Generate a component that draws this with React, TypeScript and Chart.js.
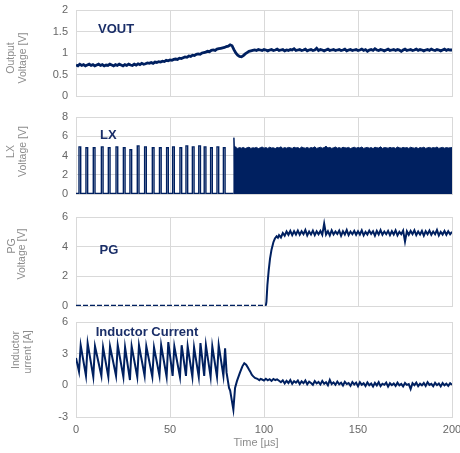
import React, { useEffect, useRef } from "react";
import { Chart, registerables } from "chart.js";
Chart.register(...registerables);

const FONT = "'Liberation Sans', Arial, sans-serif";
const NAVY = "#002060";
const LABEL_NAVY = "#1a2e68";
const GRID = "#d9d9d9";
const TICK = "#666666";
const TITLE = "#8c8c8c";

// ---------- time axis ----------
const X_TICKS = [0, 50, 100, 150, 200];

// ---------- VOUT [V], sampled every 1 µs from 0 to 200 ----------
const voutStart = 0;
const voutValues = [
  0.72, 0.70, 0.74, 0.71, 0.73, 0.70, 0.72, 0.74, 0.71, 0.73,
  0.70, 0.72, 0.74, 0.71, 0.73, 0.70, 0.72, 0.71, 0.74, 0.72,
  0.70, 0.73, 0.71, 0.74, 0.72, 0.70, 0.73, 0.71, 0.74, 0.72,
  0.71, 0.74, 0.72, 0.75, 0.73, 0.76, 0.74, 0.75, 0.77, 0.76,
  0.78, 0.76, 0.79, 0.78, 0.80, 0.79, 0.81, 0.80, 0.83, 0.82,
  0.84, 0.83, 0.85, 0.86, 0.85, 0.88, 0.87, 0.89, 0.91, 0.90,
  0.93, 0.92, 0.95, 0.94, 0.97, 0.98, 0.97, 1.00, 1.01, 1.02,
  1.04, 1.03, 1.06, 1.07, 1.06, 1.09, 1.10, 1.11, 1.12, 1.13,
  1.15, 1.16, 1.19, 1.17, 1.08, 1.00, 0.95, 0.92, 0.91, 0.94,
  0.98, 1.01, 1.04, 1.05, 1.06, 1.07, 1.06, 1.08, 1.07, 1.06,
  1.08, 1.07, 1.05, 1.07, 1.08, 1.06, 1.07, 1.09, 1.06, 1.07,
  1.08, 1.05, 1.07, 1.06, 1.08, 1.07, 1.10, 1.06, 1.07, 1.08,
  1.06, 1.07, 1.09, 1.05, 1.07, 1.08, 1.06, 1.07, 1.11, 1.06,
  1.08, 1.07, 1.05, 1.07, 1.09, 1.06, 1.07, 1.08, 1.06, 1.07,
  1.08, 1.06, 1.07, 1.09, 1.05, 1.07, 1.08, 1.06, 1.07, 1.08,
  1.06, 1.07, 1.09, 1.06, 1.08, 1.04, 1.07, 1.08, 1.06, 1.10,
  1.07, 1.06, 1.08, 1.07, 1.05, 1.07, 1.09, 1.06, 1.07, 1.08,
  1.06, 1.08, 1.07, 1.04, 1.07, 1.09, 1.06, 1.07, 1.08, 1.06,
  1.07, 1.09, 1.06, 1.08, 1.07, 1.05, 1.07, 1.08, 1.06, 1.09,
  1.07, 1.06, 1.08, 1.07, 1.05, 1.07, 1.09, 1.06, 1.08, 1.07,
  1.07,
];

// ---------- LX [V] ----------
const lxBase = 0.05;
const pulseWidth = 0.9; // µs
const pulseStarts = [
  1.6, 5.3, 9.2, 13.5, 17.2, 21.3, 25.2, 28.7, 32.6, 36.5, 40.6,
  44.4, 48.2, 51.4, 55.3, 58.5, 61.9, 65.3, 68.2, 71.6, 75.0, 78.4,
];
const pulsePeaks = [
  4.9, 4.8, 4.8, 4.9, 4.8, 4.9, 4.8, 4.6, 5.0, 4.9, 4.8,
  4.8, 4.8, 4.9, 4.8, 5.0, 4.9, 5.0, 4.9, 4.8, 4.9, 4.8,
];
const lxPulseEnd = 83.8;
// start of continuous switching (time, value)
const lxDenseLeadTimes = [83.8, 84.0, 84.2, 84.3, 84.5, 84.6];
const lxDenseLeadValues = [0.05, 5.85, 5.0, 0.2, 0.2, 4.9];
// envelope of the dense switching, every 1 µs from 85 to 200
const lxDenseStart = 85;
const lxDenseTop = [
  4.80, 4.74, 4.82, 4.76, 4.84, 4.72, 4.80, 4.86, 4.74, 4.80,
  4.78, 4.84, 4.72, 4.80, 4.88, 4.76, 4.82, 4.74, 4.86, 4.78,
  4.80, 4.72, 4.84, 4.78, 4.90, 4.74, 4.82, 4.76, 4.84, 4.80,
  4.74, 4.86, 4.78, 4.82, 4.72, 4.88, 4.80, 4.76, 4.84, 4.74,
  4.82, 4.78, 4.90, 4.74, 4.80, 4.86, 4.76, 4.82, 4.96, 4.78,
  4.84, 4.74, 4.80, 4.88, 4.76, 4.82, 4.74, 4.86, 4.80, 4.78,
  4.84, 4.72, 4.80, 4.86, 4.76, 4.82, 4.78, 4.88, 4.74, 4.80,
  4.84, 4.76, 4.82, 4.72, 4.86, 4.80, 4.78, 4.90, 4.74, 4.82,
  4.80, 4.76, 4.84, 4.78, 4.82, 4.74, 4.88, 4.80, 4.76, 4.84,
  4.78, 4.82, 4.74, 4.86, 4.80, 4.76, 4.84, 4.72, 4.82, 4.78,
  4.86, 4.74, 4.80, 4.84, 4.76, 4.82, 4.78, 4.88, 4.74, 4.80,
  4.84, 4.76, 4.82, 4.78, 4.80, 4.82,
];

// ---------- PG [V] ----------
const pgLowEnd = 101;
const pgRiseTimes = [0, 101, 101.3, 101.8, 102.5, 103.2, 104, 105, 105.8, 106.7, 107.4];
const pgRiseValues = [0.03, 0.03, 0.3, 1.4, 2.4, 3.2, 3.8, 4.3, 4.55, 4.7, 4.6];
const pgPlateauStart = 108;
const pgPlateau = [
  4.78, 4.62, 4.92, 4.74, 5.02, 4.80, 5.06, 4.78, 5.04, 4.82,
  5.08, 4.80, 5.04, 4.84, 5.12, 4.76, 5.02, 4.82, 5.08, 4.78,
  5.04, 4.84, 5.06, 4.80, 5.55, 4.82, 5.04, 4.76, 5.10, 4.82,
  5.02, 4.86, 5.08, 4.74, 5.04, 4.82, 5.12, 4.78, 5.02, 4.84,
  5.06, 4.80, 5.04, 4.82, 5.10, 4.76, 5.00, 4.82, 5.08, 4.86,
  5.04, 4.74, 5.06, 4.82, 5.12, 4.80, 5.02, 4.84, 5.06, 4.78,
  5.04, 4.82, 5.10, 4.76, 5.00, 4.84, 5.08, 4.35, 5.04, 4.80,
  5.06, 4.84, 5.10, 4.78, 5.02, 4.82, 5.06, 4.74, 5.04, 4.84,
  5.08, 4.80, 5.02, 4.84, 5.12, 4.76, 5.00, 4.82, 5.06, 4.80,
  5.04, 4.84, 5.00,
];

// ---------- Inductor current [A] ----------
const ilStartValue = 2.6;
const ilValleys = [
  1.3, 0.9, 0.8, 0.9, 0.8, 0.9, 0.8, 0.5, 0.8, 0.9, 0.8,
  0.9, 0.8, 0.9, 0.8, 0.9, 0.8, 0.8, 0.9, 0.8, 0.8, 0.9,
];
const ilPeaks = [
  3.8, 4.0, 3.7, 3.6, 3.7, 3.8, 3.6, 3.7, 3.8, 3.7, 3.6,
  3.8, 4.1, 3.7, 3.8, 3.7, 3.6, 4.0, 3.8, 3.7, 3.8, 3.5,
];
const ilAfterTimes = [80.1, 81.4, 82.0, 83.7, 84.6, 85.6, 87.2, 88.5, 89.5, 90.5, 91.2, 92.0, 92.7, 93.5, 94.3, 95.2, 96.5, 97.5, 98.2];
const ilAfterValues = [1.2, -0.25, -0.5, -2.3, -0.25, 0.4, 1.2, 1.8, 2.1, 1.95, 1.75, 1.5, 1.3, 1.0, 0.85, 0.7, 0.62, 0.48, 0.6];
const ilTailStart = 99;
const ilTail = [
  0.55, 0.45, 0.62, 0.48, 0.58, 0.42, 0.60, 0.50, 0.56, 0.44,
  0.30, 0.48, 0.18, 0.42, 0.22, 0.50, 0.15, 0.40, 0.25, 0.45,
  0.12, 0.38, 0.20, 0.46, 0.10, 0.35, 0.22, 0.05, 0.40, 0.18,
  0.32, 0.08, 0.42, 0.15, 0.30, 0.02, 0.52, 0.12, 0.28, 0.05,
  0.36, 0.10, 0.25, -0.02, 0.34, 0.12, 0.22, -0.05, 0.30, 0.08,
  0.26, -0.08, 0.30, 0.05, 0.20, -0.06, 0.28, 0.02, 0.18, -0.10,
  0.24, 0.00, 0.30, -0.08, 0.15, 0.05, 0.26, -0.12, 0.20, 0.02,
  0.18, -0.06, 0.25, 0.00, 0.14, -0.10, 0.22, 0.04, 0.12, -0.35,
  0.20, 0.02, 0.26, -0.08, 0.16, 0.00, 0.22, -0.06, 0.30, 0.04,
  0.14, -0.08, 0.24, 0.02, 0.18, -0.10, 0.22, 0.00, 0.16, -0.05,
  0.20, 0.05,
];

type Pt = { x: number; y: number };

// ---------- build point tables ----------
const voutPts: Pt[] = voutValues.map((v, i) => ({ x: voutStart + i, y: v }));

const lxPulsePts: Pt[] = [{ x: 0, y: lxBase }];
pulseStarts.forEach((t, k) => {
  lxPulsePts.push({ x: t, y: lxBase }, { x: t, y: pulsePeaks[k] }, { x: t + pulseWidth, y: pulsePeaks[k] }, { x: t + pulseWidth, y: lxBase });
});
lxPulsePts.push({ x: lxPulseEnd, y: lxBase });

const lxDensePts: Pt[] = lxDenseLeadTimes.map((t, i) => ({ x: t, y: lxDenseLeadValues[i] }));
lxDenseTop.forEach((v, i) => lxDensePts.push({ x: lxDenseStart + i, y: v }));

const pgPts: Pt[] = pgRiseTimes.map((t, i) => ({ x: t, y: pgRiseValues[i] }));
pgPlateau.forEach((v, i) => pgPts.push({ x: pgPlateauStart + i, y: v }));

const ilPts: Pt[] = [{ x: 0, y: ilStartValue }];
pulseStarts.forEach((t, k) => {
  ilPts.push({ x: t, y: ilValleys[k] }, { x: t + pulseWidth, y: ilPeaks[k] });
});
ilAfterTimes.forEach((t, i) => ilPts.push({ x: t, y: ilAfterValues[i] }));
ilTail.forEach((v, i) => ilPts.push({ x: ilTailStart + i, y: v }));

// ---------- helpers ----------
type TextItem = { text: string; x: number; y: number; rotate?: boolean; font: string; color: string; align?: CanvasTextAlign; baseline?: CanvasTextBaseline };

function textPlugin(id: string, items: TextItem[]) {
  return {
    id,
    afterDraw(chart: any) {
      const ctx = chart.ctx as CanvasRenderingContext2D;
      items.forEach((it) => {
        ctx.save();
        ctx.font = it.font;
        ctx.fillStyle = it.color;
        if (it.rotate) {
          ctx.translate(it.x, it.y);
          ctx.rotate(-Math.PI / 2);
          ctx.textAlign = "center";
          ctx.textBaseline = "middle";
          ctx.fillText(it.text, 0, 0);
        } else {
          ctx.textAlign = it.align || "left";
          ctx.textBaseline = it.baseline || "alphabetic";
          ctx.fillText(it.text, it.x, it.y);
        }
        ctx.restore();
      });
    },
  };
}

const W = 460;
const H = 453;
const PLOT_LEFT = 76;
const PLOT_RIGHT = 452;

function panelConfig(p: {
  datasets: any[];
  yMin: number;
  yMax: number;
  yStep: number;
  top: number;
  bottom: number;
  showX: boolean;
  texts: TextItem[];
  id: string;
}): any {
  const xh = p.showX ? H - p.bottom : 0;
  return {
    type: "line",
    data: { datasets: p.datasets },
    plugins: [textPlugin(p.id, p.texts)],
    options: {
      responsive: false,
      animation: false,
      devicePixelRatio: 1,
      parsing: false,
      normalized: true,
      events: [],
      layout: { padding: { left: 0, right: W - PLOT_RIGHT, top: p.top, bottom: H - p.bottom - xh } },
      plugins: { legend: { display: false }, tooltip: { enabled: false }, title: { display: false } },
      elements: { point: { radius: 0 }, line: { tension: 0 } },
      scales: {
        x: {
          type: "linear",
          min: 0,
          max: 200,
          afterBuildTicks: (s: any) => {
            s.ticks = X_TICKS.map((v) => ({ value: v }));
          },
          ticks: {
            display: p.showX,
            padding: 6,
            color: TICK,
            font: { family: FONT, size: 11 },
            maxRotation: 0,
            autoSkip: false,
            callback: (v: any) => String(Number(v)),
          },
          grid: { color: GRID, lineWidth: 1, drawTicks: false },
          border: { color: GRID, width: 1 },
          afterFit: (s: any) => {
            s.height = xh;
            s.paddingLeft = 0;
            s.paddingRight = 0;
          },
        },
        y: {
          type: "linear",
          min: p.yMin,
          max: p.yMax,
          ticks: {
            stepSize: p.yStep,
            padding: 8,
            color: TICK,
            font: { family: FONT, size: 11 },
            callback: (v: any) => String(Number(v)),
          },
          grid: { color: GRID, lineWidth: 1, drawTicks: false },
          border: { color: GRID, width: 1 },
          afterFit: (s: any) => {
            s.width = PLOT_LEFT;
            s.paddingTop = 0;
            s.paddingBottom = 0;
          },
        },
      },
    },
  };
}

const TITLE_FONT = `10.5px ${FONT}`;
const LABEL_FONT = `bold 13px ${FONT}`;

export default function App() {
  const r1 = useRef<HTMLCanvasElement>(null);
  const r2 = useRef<HTMLCanvasElement>(null);
  const r3 = useRef<HTMLCanvasElement>(null);
  const r4 = useRef<HTMLCanvasElement>(null);

  useEffect(() => {
    const charts: Chart[] = [];

    charts.push(
      new Chart(
        r1.current!,
        panelConfig({
          id: "t1",
          datasets: [{ data: voutPts, borderColor: NAVY, borderWidth: 2.8, fill: false }],
          yMin: 0,
          yMax: 2,
          yStep: 0.5,
          top: 10,
          bottom: 96,
          showX: false,
          texts: [
            { text: "Output", x: 11.5, y: 58, rotate: true, font: TITLE_FONT, color: TITLE },
            { text: "Voltage [V]", x: 23, y: 58, rotate: true, font: TITLE_FONT, color: TITLE },
            { text: "VOUT", x: 98, y: 32.7, font: LABEL_FONT, color: LABEL_NAVY },
          ],
        })
      )
    );

    charts.push(
      new Chart(
        r2.current!,
        panelConfig({
          id: "t2",
          datasets: [
            { data: lxPulsePts, borderColor: NAVY, borderWidth: 1.4, fill: false },
            { data: lxDensePts, borderColor: NAVY, borderWidth: 1, backgroundColor: NAVY, fill: "origin" },
          ],
          yMin: 0,
          yMax: 8,
          yStep: 2,
          top: 117,
          bottom: 194,
          showX: false,
          texts: [
            { text: "LX", x: 11, y: 151.5, rotate: true, font: TITLE_FONT, color: TITLE },
            { text: "Voltage [V]", x: 23, y: 151.5, rotate: true, font: TITLE_FONT, color: TITLE },
            { text: "LX", x: 100, y: 139, font: LABEL_FONT, color: LABEL_NAVY },
          ],
        })
      )
    );

    charts.push(
      new Chart(
        r3.current!,
        panelConfig({
          id: "t3",
          datasets: [
            {
              data: pgPts,
              borderColor: NAVY,
              borderWidth: 2,
              fill: false,
              segment: {
                borderDash: (ctx: any) => (ctx.p1.parsed.x <= pgLowEnd ? [5, 2] : undefined),
                borderWidth: (ctx: any) => (ctx.p1.parsed.x <= pgLowEnd ? 1.4 : undefined),
              },
            },
          ],
          yMin: 0,
          yMax: 6,
          yStep: 2,
          top: 217,
          bottom: 306,
          showX: false,
          texts: [
            { text: "PG", x: 12.5, y: 246, rotate: true, font: TITLE_FONT, color: TITLE },
            { text: "Voltage [V]", x: 22.5, y: 254, rotate: true, font: TITLE_FONT, color: TITLE },
            { text: "PG", x: 99.5, y: 254, font: LABEL_FONT, color: LABEL_NAVY },
          ],
        })
      )
    );

    charts.push(
      new Chart(
        r4.current!,
        panelConfig({
          id: "t4",
          datasets: [{ data: ilPts, borderColor: NAVY, borderWidth: 2, fill: false }],
          yMin: -3,
          yMax: 6,
          yStep: 3,
          top: 322,
          bottom: 417,
          showX: true,
          texts: [
            { text: "Inductor", x: 16, y: 350, rotate: true, font: TITLE_FONT, color: TITLE },
            { text: "urrent [A]", x: 28.5, y: 352, rotate: true, font: TITLE_FONT, color: TITLE },
            { text: "Inductor Current", x: 95.7, y: 335.5, font: LABEL_FONT, color: LABEL_NAVY },
            { text: "Time [µs]", x: 256, y: 443, font: `11px ${FONT}`, color: TITLE, align: "center", baseline: "middle" },
          ],
        })
      )
    );

    return () => charts.forEach((c) => c.destroy());
  }, []);

  const canvasStyle: React.CSSProperties = { position: "absolute", left: 0, top: 0, width: W, height: H };
  return (
    <div style={{ position: "absolute", left: 0, top: 0, width: W, height: H, background: "#ffffff" }}>
      <canvas ref={r1} width={W} height={H} style={canvasStyle} />
      <canvas ref={r2} width={W} height={H} style={canvasStyle} />
      <canvas ref={r3} width={W} height={H} style={canvasStyle} />
      <canvas ref={r4} width={W} height={H} style={canvasStyle} />
    </div>
  );
}
